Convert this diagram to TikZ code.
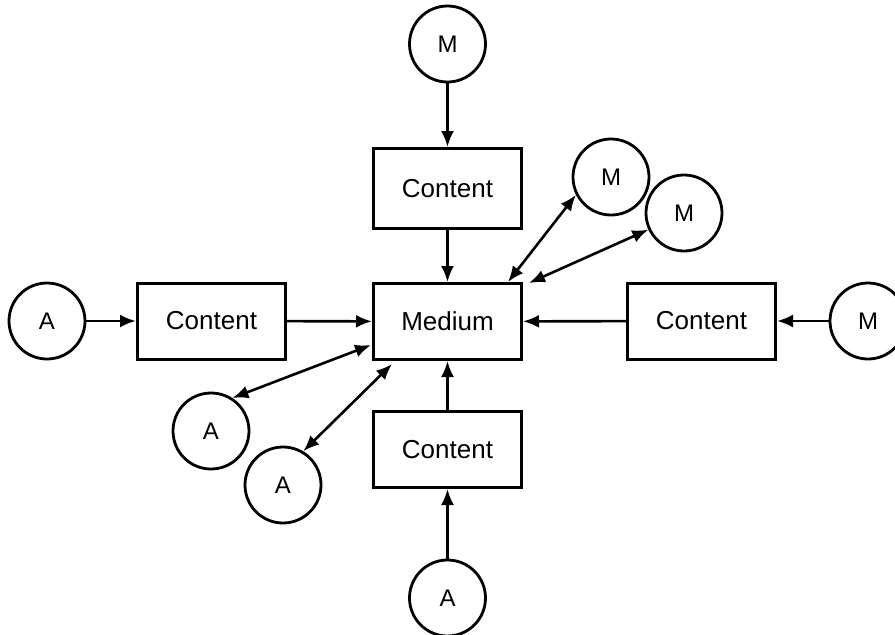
\documentclass[tikz,border=0pt]{standalone}
\usepackage{fontspec}
\setmainfont{Liberation Sans}
\usetikzlibrary{arrows.meta, calc}

\begin{document}
\begin{tikzpicture}[x = 1pt, y = -1pt,
    scatola/.style = {draw, line width = 3pt, minimum width = 148pt, minimum height = 76pt, inner sep = 0pt, font = \fontsize{26}{30}\selectfont},
    cerchio/.style = {draw, circle, line width = 2.8pt, minimum size = 76pt, inner sep = 0pt, font = \fontsize{24}{28}\selectfont},
    freccia/.style = {line width = 2.6pt, -{Latex[length = 16pt, width = 13pt]}},
    doppia/.style = {line width = 2.6pt, {Latex[length = 16pt, width = 13pt]}-{Latex[length = 16pt, width = 13pt]}}]
    \useasboundingbox (0,0) rectangle (895,635);
    \clip (0,0) rectangle (895,635);
    % Scatole
    \node[scatola] (med) at (447.5,321.5) {Medium};
    \node[scatola, minimum height = 80pt] (contSu) at (447.5,188.5) {Content};
    \node[scatola] (contGiu) at (447.5,449.5) {Content};
    \node[scatola] (contSx) at (211.5,321) {Content};
    \node[scatola] (contDx) at (701.5,321) {Content};
    % Cerchi M
    \node[cerchio] (Msu) at (447.5,44) {M};
    \node[cerchio] (Mdx) at (868,321) {M};
    \node[cerchio] (Muno) at (611,177) {M};
    \node[cerchio] (Mdue) at (684,213) {M};
    % Cerchi A
    \node[cerchio] (Asx) at (47,321) {A};
    \node[cerchio] (Agiu) at (447.5,598) {A};
    \node[cerchio] (Auno) at (211,431) {A};
    \node[cerchio] (Adue) at (283,485) {A};
    % Punti d'arrivo sul bordo di Medium
    \coordinate (pAuno) at (371,345);
    \coordinate (pAdue) at (392,364);
    \coordinate (pMuno) at (508,282);
    \coordinate (pMdue) at (529,283);
    % Frecce verso Content e Medium
    \draw[freccia] (Msu) -- (contSu);
    \draw[freccia] (contSu) -- (med);
    \draw[freccia] (Asx) -- (contSx);
    \draw[freccia] (contSx) -- (med);
    \draw[freccia] (Mdx) -- (contDx);
    \draw[freccia] (contDx) -- (med);
    \draw[freccia] (Agiu) -- (contGiu);
    \draw[freccia] (contGiu) -- (med);
    % Frecce doppie
    \draw[doppia] (Auno.57) -- (pAuno);
    \draw[doppia] (Adue.59) -- (pAdue);
    \draw[doppia] (Muno.207) -- (pMuno);
    \draw[doppia] (Mdue.205) -- (pMdue);
\end{tikzpicture}
\end{document}
